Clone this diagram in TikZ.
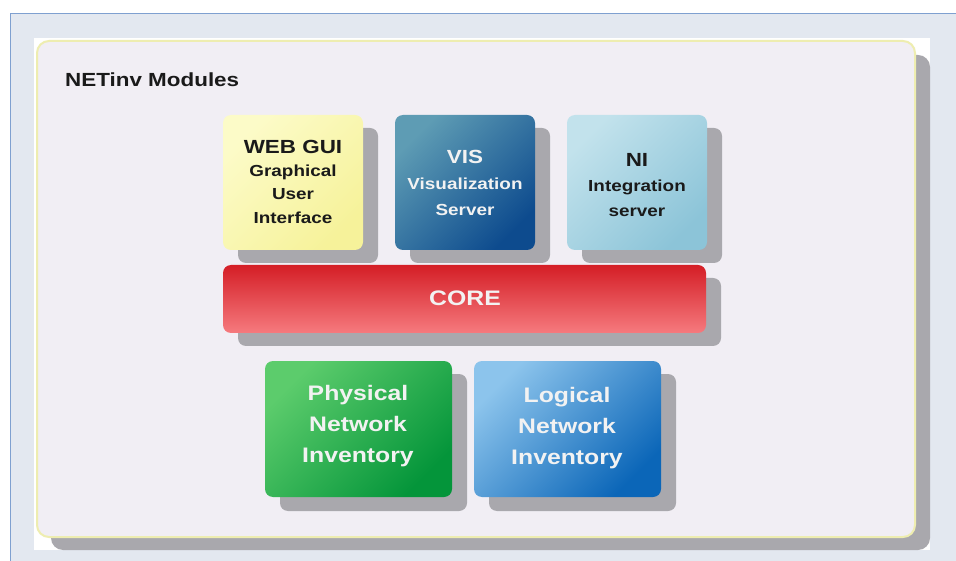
\documentclass[tikz,border=0pt]{standalone}
\usepackage{fontspec}
\setmainfont{Liberation Sans}[FakeStretch=1.18]
\usetikzlibrary{shadings}
\definecolor{bgblue}{HTML}{E3E8F0}
\definecolor{frameline}{HTML}{7FA0D0}
\definecolor{panelfill}{HTML}{F1EEF4}
\definecolor{panelborder}{HTML}{EEEDB0}
\definecolor{shadowgrey}{HTML}{A9A8AD}
\definecolor{ylight}{HTML}{FCFBC8}
\definecolor{ydark}{HTML}{F6F29A}
\definecolor{vislight}{HTML}{5E9CB4}
\definecolor{vismid}{HTML}{17589A}
\definecolor{visdark}{HTML}{0D4B8E}
\definecolor{nilight}{HTML}{C2E2EC}
\definecolor{nidark}{HTML}{8CC4D8}
\definecolor{coretop}{HTML}{D41E26}
\definecolor{corebot}{HTML}{F67A7E}
\definecolor{grlight}{HTML}{5CCC6C}
\definecolor{grmid}{HTML}{15A444}
\definecolor{grdark}{HTML}{04953A}
\definecolor{bllight}{HTML}{8CC4EC}
\definecolor{blmid}{HTML}{1E78C4}
\definecolor{bldark}{HTML}{0B66B8}
\definecolor{txtdark}{HTML}{1A1A1A}
\definecolor{txtwhite}{HTML}{F2F2F2}
\tikzset{
  modbox/.style={rounded corners=8pt, draw=none},
  lbl/.style={align=center, inner sep=0pt},
}
\begin{document}
\begin{tikzpicture}[x=1pt,y=-1pt]
\useasboundingbox (0,0) rectangle (956,561);
% outer frame
\fill[white] (0,0) rectangle (956,561);
\fill[bgblue] (10,13) rectangle (956,561);
\draw[frameline, line width=1pt] (10.5,561) -- (10.5,13.5) -- (956,13.5);
% inner white area
\fill[white] (34,38) rectangle (930,550);
% panel shadow and panel
\fill[shadowgrey, rounded corners=12pt] (51,55) rectangle (930,550);
\draw[panelborder, line width=2pt, fill=panelfill, rounded corners=12pt] (37,41) rectangle (915,537);
\node[font=\bfseries\fontsize{19}{21}\selectfont, anchor=west, inner sep=0pt, text=txtdark] (title) at (65,80) {NETinv Modules};
% shadows
\fill[shadowgrey, rounded corners=8pt] (238,128) rectangle (378,263);
\fill[shadowgrey, rounded corners=8pt] (410,128) rectangle (550,263);
\fill[shadowgrey, rounded corners=8pt] (582,128) rectangle (722,263);
\fill[shadowgrey, rounded corners=8pt] (238,278) rectangle (721,346);
\fill[shadowgrey, rounded corners=8pt] (280,374) rectangle (467,511);
\fill[shadowgrey, rounded corners=8pt] (489,374) rectangle (676,511);
% boxes
\shade[modbox, top color=ylight, bottom color=ydark, shading angle=45] (223,115) rectangle (363,250);
\shade[modbox, top color=vislight, middle color=vismid, bottom color=visdark, shading angle=45] (395,115) rectangle (535,250);
\shade[modbox, top color=nilight, bottom color=nidark, shading angle=45] (567,115) rectangle (707,250);
\shade[modbox, top color=coretop, bottom color=corebot] (223,265) rectangle (706,333);
\shade[modbox, top color=grlight, middle color=grmid, bottom color=grdark, shading angle=45] (265,361) rectangle (452,497);
\shade[modbox, top color=bllight, middle color=blmid, bottom color=bldark, shading angle=45] (474,361) rectangle (661,497);
% labels
\node[lbl, text=txtdark, font=\bfseries\fontsize{16}{23.5}\selectfont] (web) at (293,182) {\fontsize{19}{23}\selectfont WEB GUI\\[-1pt] Graphical\\User\\Interface};
\node[lbl, text=txtwhite, font=\bfseries\fontsize{16}{26}\selectfont] (vis) at (465,183) {\fontsize{19}{26}\selectfont VIS\\ Visualization\\Server};
\node[lbl, text=txtdark, font=\bfseries\fontsize{16}{25}\selectfont] (ni) at (637,185) {\fontsize{19}{26}\selectfont NI\\ Integration\\server};
\node[lbl, text=txtwhite, font=\bfseries\fontsize{21}{24}\selectfont] (core) at (465,298) {CORE};
\node[lbl, text=txtwhite, font=\bfseries\fontsize{21}{31}\selectfont] (phys) at (358,426) {Physical\\Network\\Inventory};
\node[lbl, text=txtwhite, font=\bfseries\fontsize{21}{31}\selectfont] (logi) at (567,428) {Logical\\Network\\Inventory};
\end{tikzpicture}
\end{document}
